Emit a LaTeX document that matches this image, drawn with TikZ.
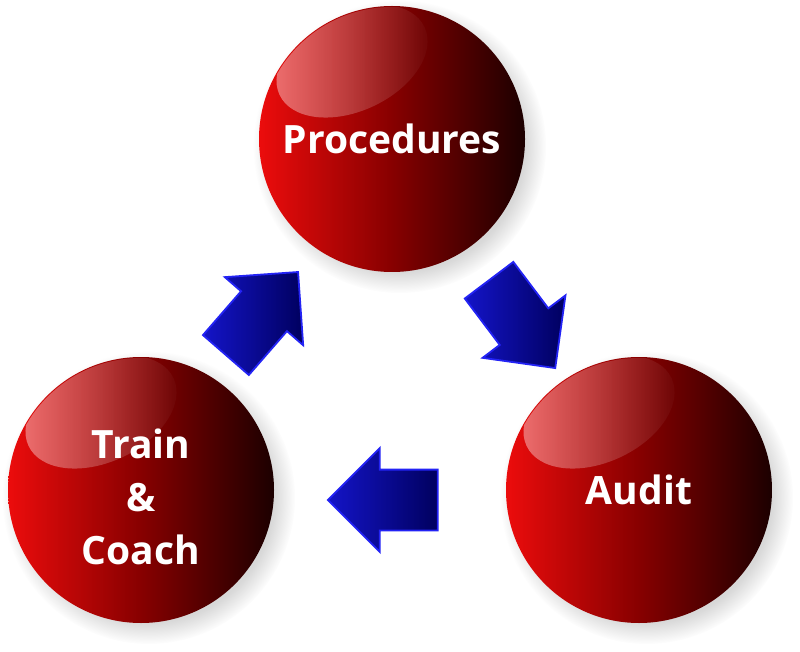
\documentclass[tikz,border=0pt]{standalone}
\usepackage{fontspec}
\newfontfamily\ballfont{Open Sans}
\usetikzlibrary{shapes.arrows,shadows,fadings}

\definecolor{ballred}{RGB}{236,12,12}
\definecolor{ballmid}{RGB}{135,0,0}
\definecolor{balldark}{RGB}{28,0,0}
\definecolor{arrowlight}{RGB}{20,20,200}
\definecolor{arrowdark}{RGB}{0,0,95}
\definecolor{arrowedge}{RGB}{35,35,245}

\begin{document}
\begin{tikzpicture}[x=1pt, y=-1pt,
            ball/.style={circle, minimum size=266pt, inner sep=0pt, left color=ballred, right color=balldark, middle color=ballmid,
                circular drop shadow={shadow xshift=7pt, shadow yshift=-7pt, opacity=0.3},
                text=white, align=center, font=\ballfont\bfseries\fontsize{39}{53}\selectfont},
            gloss/.style={fill=white, fill opacity=0.42, path fading=east},
            blockarrow/.style={single arrow, single arrow tip angle=90, single arrow head extend=21.5pt, minimum height=110pt,
                inner xsep=0pt, inner ysep=29.5pt, left color=arrowlight, right color=arrowdark, draw=arrowedge, line width=1.8pt},
        ]
        \useasboundingbox[fill=white] (0,0) rectangle (800,652);

        %Balls
        \node[ball]      (procedures)  at (392,139) {Procedures};
        \node[ball]      (traincoach)  at (141,490) {\rule{0pt}{43pt}Train\\\&\\Coach};
        \node[ball]      (audit)       at (639,490) {Audit};

        %Gloss
        \foreach \b in {procedures,traincoach,audit} {
            \begin{scope}
                \clip (\b.center) circle (132);
                \fill[gloss] ([shift={(-40,-78)}]\b.center) ellipse [x radius=80, y radius=50, rotate=25];
            \end{scope}
        }

        %Arrows
        \node[blockarrow, rotate=49]    (upperarrow)  at (252,325) {};
        \node[blockarrow, rotate=-53]   (rightarrow)  at (513,312) {};
        \node[blockarrow, rotate=180]   (lowerarrow)  at (398,500) {};
    \end{tikzpicture}
\end{document}
